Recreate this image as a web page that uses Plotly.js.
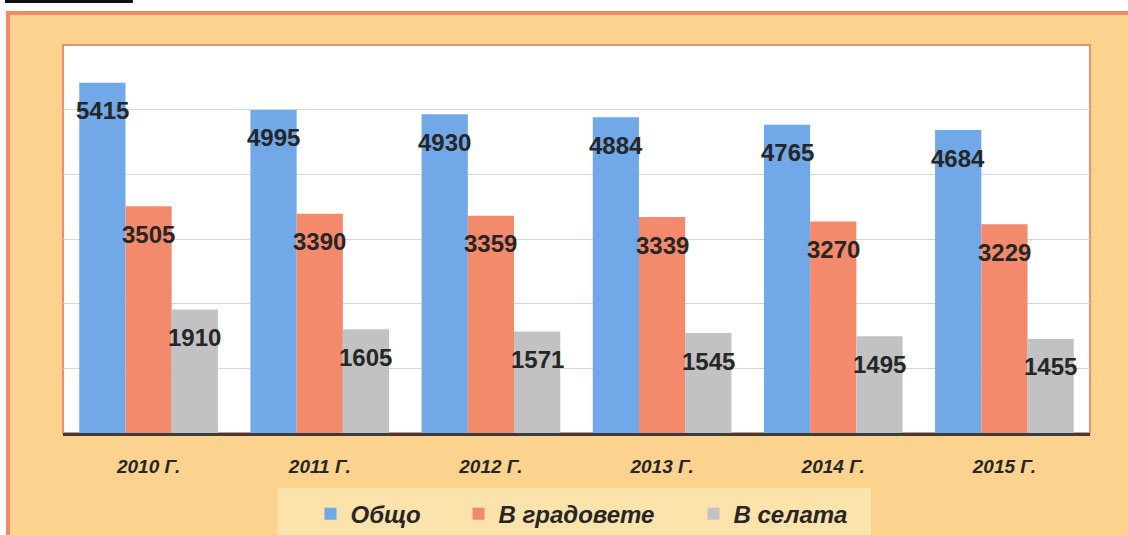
<!DOCTYPE html>
<html>
<head>
<meta charset="utf-8">
<script src="https://cdn.plot.ly/plotly-3.0.1.min.js"></script>
<style>html,body{margin:0;padding:0;background:#fff;}#chart{width:1128px;height:535px;}</style>
</head>
<body>
<div id="chart"></div>
<script>
const years = ['2010 Г.', '2011 Г.', '2012 Г.', '2013 Г.', '2014 Г.', '2015 Г.'];
const seriesNames = ['Общо', 'В градовете', 'В селата'];
const total = [5415, 4995, 4930, 4884, 4765, 4684];
const urban = [3505, 3390, 3359, 3339, 3270, 3229];
const rural = [1910, 1605, 1571, 1545, 1495, 1455];

const colors = ['#70A8E8', '#F48A6C', '#C2C2C4'];
const legendWidths = [103, 190, 140];
const BARGAP = 0.19;
const values = [total, urban, rural];

const FONT = 'Liberation Sans, Arial, sans-serif';

const traces = values.map((v, k) => ({
  type: 'bar',
  name: seriesNames[k],
  x: years,
  y: v,
  marker: {color: colors[k], line: {width: 0}},
  legendwidth: legendWidths[k],
  hoverinfo: 'x+y+name'
}));

const annotations = [];
values.forEach((v, k) => {
  v.forEach((val, i) => {
    annotations.push({
      x: i + (k - 1) * (1 - BARGAP) / 3,
      y: val,
      xref: 'x', yref: 'y',
      text: String(val),
      showarrow: false,
      yshift: -28,
      font: {family: FONT, size: 24, color: '#262626', weight: 'bold'}
    });
  });
});

const layout = {
  width: 1128, height: 535,
  margin: {l: 63, r: 38, t: 45, b: 102, autoexpand: false},
  paper_bgcolor: '#ffffff',
  plot_bgcolor: 'rgba(0,0,0,0)',
  barmode: 'group',
  bargap: BARGAP,
  bargroupgap: 0,
  showlegend: true,
  legend: {
    orientation: 'h',
    x: 0.241, xanchor: 'left',
    y: -0.209, yanchor: 'middle',
    bgcolor: 'rgba(0,0,0,0)',
    font: {family: FONT, size: 24, color: '#262626', weight: 'bold', style: 'italic'}
  },
  xaxis: {
    type: 'category',
    showgrid: false,
    showline: true, linecolor: '#3c3c3c', linewidth: 3,
    ticks: '',
    ticklabelstandoff: 14,
    tickfont: {family: FONT, size: 19, color: '#262626', weight: 'bold', style: 'italic'},
    fixedrange: true
  },
  yaxis: {
    range: [0, 6000],
    dtick: 1000,
    showgrid: true, gridcolor: '#D6D6D6', gridwidth: 1,
    zeroline: false,
    showticklabels: false,
    ticks: '',
    fixedrange: true
  },
  annotations: annotations,
  shapes: [
    {type: 'rect', xref: 'paper', yref: 'paper', x0: -0.0536, x1: 1.12, y0: -0.3, y1: 1.0825,
     fillcolor: '#FBD38F', line: {color: '#F08A6A', width: 4}, layer: 'below'},
    {type: 'rect', xref: 'paper', yref: 'paper', x0: 0, x1: 1, y0: 0, y1: 1,
     fillcolor: '#FFFFFF', line: {color: '#EE8E6E', width: 2}, layer: 'below'},
    {type: 'rect', xref: 'paper', yref: 'paper', x0: 0.209, x1: 0.7868, y0: -0.3, y1: -0.1418,
     fillcolor: '#FCE2AB', line: {width: 0}, layer: 'below'},
    {type: 'line', xref: 'paper', yref: 'paper', x0: -0.0565, x1: 0.068, y0: 1.112, y1: 1.112,
     line: {color: '#111111', width: 3}, layer: 'below'}
  ]
};

Plotly.newPlot('chart', traces, layout, {displayModeBar: false, staticPlot: true});
</script>
</body>
</html>
